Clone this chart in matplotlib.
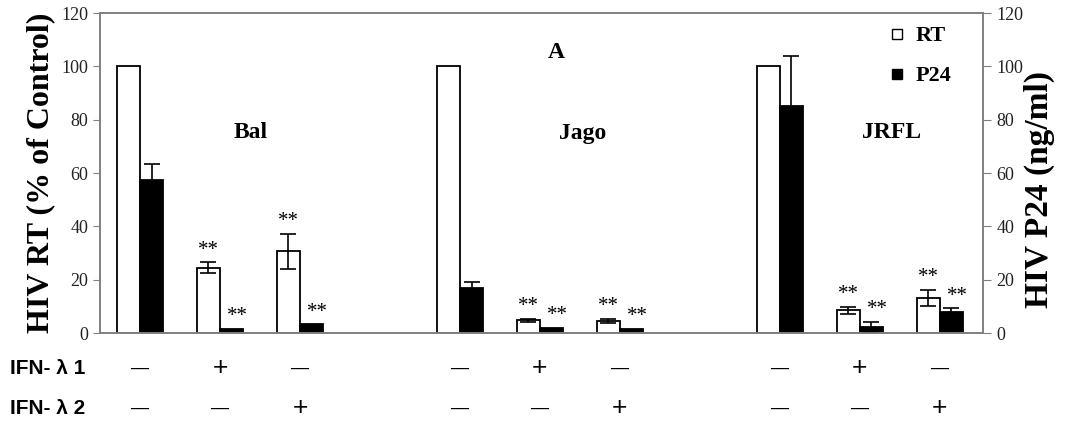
import numpy as np
import matplotlib.pyplot as plt

# === DATOS ===
grupos = ['Bal', 'Jago', 'JRFL']
rt = [100, 24.5, 30.6, 100, 4.8, 4.6, 100, 8.5, 13.3]
rt_err = [0, 2.0, 6.5, 0, 0.6, 0.8, 0, 1.3, 3.0]
p24 = [57.2, 1.5, 3.3, 17.0, 2.0, 1.6, 85.0, 2.3, 7.9]
p24_err = [6.0, 0, 0, 2.0, 0, 0, 18.8, 1.8, 1.3]
signif = [False, True, True, False, True, True, False, True, True]
ifn1 = ['—', '+', '—', '—', '+', '—', '—', '+', '—']
ifn2 = ['—', '—', '+', '—', '—', '+', '—', '—', '+']

# posiciones: 3 grupos de 3 pares
x = np.array([0, 1, 2, 4, 5, 6, 8, 9, 10], dtype=float)
w = 0.29

fig = plt.figure(figsize=(10.67, 4.25), dpi=100)
ax = fig.add_axes([100/1067, 1 - 333/425, 883/1067, 320/425])
serif = ['Liberation Serif', 'DejaVu Serif']
gris = '#808080'

ax.bar(x - w/2, rt, w, color='white', edgecolor='black', lw=1.3, zorder=2)
ax.bar(x + w/2, p24, w, color='black', edgecolor='black', lw=1.3, zorder=2)

for xi, v, e in zip(x - w/2, rt, rt_err):
    if e > 0:
        ax.errorbar(xi, v, yerr=e, color='black', lw=1.2, capsize=6, capthick=1.2, zorder=3)
for xi, v, e in zip(x + w/2, p24, p24_err):
    if e > 0:
        ax.errorbar(xi, v, yerr=e, color='black', lw=1.2, capsize=6, capthick=1.2, zorder=3)

# asteriscos
for i in range(len(x)):
    if signif[i]:
        ax.text(x[i] - w/2, rt[i] + rt_err[i] + 1.0, '**', ha='center', va='bottom',
                family=serif, fontsize=15)
        ax.text(x[i] + w/2 + 0.07, p24[i] + p24_err[i] + 1.0, '**', ha='center', va='bottom',
                family=serif, fontsize=15)

ax.set_xlim(-0.5, 10.54)
ax.set_ylim(0, 120)
ax.set_yticks(range(0, 121, 20))
ax.set_xticks([])
for s in ax.spines.values():
    s.set_color(gris)
    s.set_linewidth(1.2)
ax.tick_params(axis='y', length=5, color=gris, labelsize=13, labelcolor='#222222')
for lab in ax.get_yticklabels():
    lab.set_family(serif)
ax.set_ylabel('HIV RT (% of Control)', family=serif, fontweight='bold', fontsize=23, labelpad=4)

ax2 = ax.twinx()
ax2.set_ylim(0, 120)
ax2.set_yticks(range(0, 121, 20))
for s in ax2.spines.values():
    s.set_color(gris)
    s.set_linewidth(1.2)
ax2.tick_params(axis='y', length=6, color=gris, labelsize=13, labelcolor='#222222')
for lab in ax2.get_yticklabels():
    lab.set_family(serif)
ax2.set_ylabel('HIV P24 (ng/ml)', family=serif, fontweight='bold', fontsize=24)
ax2.yaxis.set_label_coords(1.046, 0.45)

# etiquetas de grupo
ax.text(1.38, 75, grupos[0], ha='center', va='center', family=serif, fontweight='bold', fontsize=17)
ax.text(5.53, 75, grupos[1], ha='center', va='center', family=serif, fontweight='bold', fontsize=17)
ax.text(9.4, 75, grupos[2], ha='center', va='center', family=serif, fontweight='bold', fontsize=17)
ax.text(5.2, 105, 'A', ha='center', va='center', family=serif, fontweight='bold', fontsize=17)

# leyenda
ax.plot([9.46], [112], 's', ms=7, mfc='white', mec='black', mew=1)
ax.plot([9.46], [97], 's', ms=7, mfc='black', mec='black', mew=1)
ax.text(9.7, 111.5, 'RT', va='center', family=serif, fontweight='bold', fontsize=16)
ax.text(9.7, 96.5, 'P24', va='center', family=serif, fontweight='bold', fontsize=16)

# tabla de tratamientos
tr = ax.get_xaxis_transform()
for xi, a, b in zip(x, ifn1, ifn2):
    for y, s in ((-0.11, a), (-0.235, b)):
        ax.text(xi, y, s, transform=tr, ha='center', va='center',
                fontsize=13 if s == '—' else 19, family='Liberation Sans', clip_on=False)
fig.text(10/1067, 1 - 368/425, 'IFN- λ 1', ha='left', va='center', fontsize=15,
         fontweight='bold', family='Liberation Sans')
fig.text(10/1067, 1 - 408/425, 'IFN- λ 2', ha='left', va='center', fontsize=15,
         fontweight='bold', family='Liberation Sans')

fig.savefig('out.png', dpi=100)
